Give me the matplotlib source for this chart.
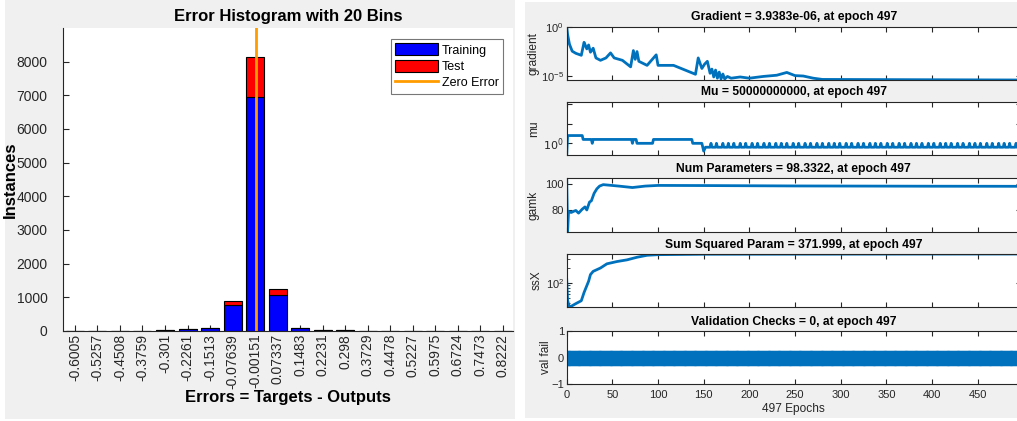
import numpy as np
import matplotlib
matplotlib.use('Agg')
import matplotlib.pyplot as plt
from matplotlib.patches import Rectangle, Patch
from matplotlib.lines import Line2D
from matplotlib import ticker

# ---------------- data ----------------
bin_labels = ['-0.6005', '-0.5257', '-0.4508', '-0.3759', '-0.301', '-0.2261',
              '-0.1513', '-0.07639', '-0.00151', '0.07337', '0.1483', '0.2231',
              '0.298', '0.3729', '0.4478', '0.5227', '0.5975', '0.6724',
              '0.7473', '0.8222']
training_counts = [0, 0, 0, 3, 22, 45, 80, 760, 6950, 1080, 80, 22, 18, 0, 0, 0, 0, 0, 0, 0]
test_counts = [0, 0, 0, 0, 4, 8, 12, 125, 1200, 170, 12, 5, 5, 0, 0, 0, 0, 0, 0, 0]
zero_error = 0.0

n_epochs = 497
epoch_ticks = [0, 50, 100, 150, 200, 250, 300, 350, 400, 450]

grad_epochs = [0, 1, 3, 6, 10, 16, 19, 20, 22, 24, 26, 29, 32, 37, 43, 48, 52, 61,
               70, 73, 75, 77, 79, 88, 98, 100, 117, 141, 144, 148, 151, 154, 157,
               159, 161, 163, 165, 167, 169, 171, 173, 176, 180, 190, 200, 215, 230,
               241, 250, 259, 270, 280, 497]
grad_values = [1.0, 0.16, 1.7e-2, 3.3e-3, 2.0e-3, 1.26e-3, 2.6e-2, 1.6e-2, 5.6e-3,
               1.4e-2, 2.6e-3, 6.6e-3, 6.8e-4, 3.9e-4, 6.8e-4, 2.2e-3, 6.8e-4, 3.9e-4,
               8.5e-5, 3.8e-3, 4.9e-4, 3.0e-3, 3.1e-4, 1.2e-4, 1.4e-3, 1.2e-4, 1.2e-4,
               1.5e-5, 6.8e-4, 5.8e-5, 1.6e-4, 3.1e-4, 1.9e-5, 5e-5, 8e-6, 4e-5, 6e-6,
               2.5e-5, 5e-6, 1.6e-5, 5e-6, 9e-6, 6e-6, 8e-6, 6e-6, 9e-6, 1.2e-5,
               2.3e-5, 1.1e-5, 1.0e-5, 6e-6, 4.5e-6, 3.9383e-06]

mu_epochs = [0, 1, 17, 18, 27, 28, 29, 71, 72, 73, 76, 77, 94, 95, 137, 138, 148, 150, 152]
mu_values = [1e-3, 100, 100, 10, 10, 1, 10, 10, 1, 10, 10, 1, 1, 10, 10, 1, 1, 0.01, 0.1]
mu_spike_epochs = [158, 164, 171, 177, 183, 190, 196, 203, 209, 216, 222, 229, 235, 241,
                   248, 254, 261, 267, 274, 280, 287, 293, 299, 306, 312, 319, 325, 332,
                   338, 344, 351, 357, 364, 370, 377, 383, 389, 396, 402, 409, 415, 421,
                   428, 434, 441, 447, 453, 460, 466, 473, 479, 485, 492]
mu_base = 0.1
mu_spike = 1.0
mu_final = 5e10

gamk_epochs = [0, 1, 2, 5, 8, 10, 13, 17, 20, 22, 25, 27, 30, 33, 36, 40, 57, 72, 86,
               100, 150, 250, 400, 497]
gamk_values = [104, 64, 79, 78.5, 79.5, 80, 78, 81, 82.7, 80.4, 86.4, 87.3, 93, 96.4,
               98.5, 99.6, 98.5, 97.4, 98.5, 99, 98.9, 98.6, 98.4, 98.3322]

ssx_epochs = [0, 1, 3, 10, 16, 19, 24, 26, 29, 37, 44, 55, 66, 77, 88, 100, 150, 497]
ssx_values = [117, 45, 33, 39, 44.5, 64.6, 108, 146, 169, 197, 238, 264, 285, 321,
              351, 361, 368, 371.999]

val_fail = [0] * (n_epochs + 1)

# ---------------- style ----------------
plt.rcParams['font.family'] = ['Liberation Sans', 'DejaVu Sans']
TXT = '#262626'
LINE = '#0072BD'
PANEL = '#F0F0F0'

W, H = 1017, 421
fig = plt.figure(figsize=(W / 100, H / 100), dpi=100)
fig.patch.set_facecolor('white')

def fx(px):
    return px / W

def fy(py):
    return 1 - py / H

# grey panels
fig.patches.append(Rectangle((fx(5), fy(419)), fx(510), (419 - 0) / H,
                             transform=fig.transFigure, facecolor=PANEL,
                             edgecolor='none', zorder=-10))
fig.patches.append(Rectangle((fx(525), fy(418)), fx(492), (418 - 2) / H,
                             transform=fig.transFigure, facecolor=PANEL,
                             edgecolor='none', zorder=-10))

# ---------------- histogram ----------------
centers = np.array([float(s) for s in bin_labels])
spacing = centers[1] - centers[0]
axh = fig.add_axes([fx(63), fy(331), fx(513 - 63), (331 - 28) / H])
axh.set_facecolor('white')
tr = np.array(training_counts)
te = np.array(test_counts)
axh.bar(centers, tr, width=0.8 * spacing, color='#0000FF', edgecolor='black',
        linewidth=0.8, zorder=2)
axh.bar(centers, te, bottom=tr, width=0.8 * spacing, color='#FF0000',
        edgecolor='black', linewidth=0.8, zorder=2)
axh.axvline(zero_error, color='#FF9C00', linewidth=2.0, zorder=3)
axh.set_xlim(-0.640, 0.856)
axh.set_ylim(0, 9000)
axh.set_xticks(centers)
axh.set_xticklabels(bin_labels, rotation=90, fontsize=10, color=TXT)
axh.set_yticks(range(0, 9000, 1000))
for lab in axh.get_yticklabels():
    lab.set_fontsize(10)
    lab.set_color(TXT)
    lab.set_family(['Liberation Sans Narrow', 'Liberation Sans'])
axh.tick_params(axis='x', direction='in', length=4, pad=2, colors=TXT)
axh.tick_params(axis='y', direction='in', length=4, pad=11, colors=TXT)
for s in ['top', 'right']:
    axh.spines[s].set_visible(False)
for s in ['left', 'bottom']:
    axh.spines[s].set_color(TXT)
    axh.spines[s].set_linewidth(0.8)
axh.set_title('Error Histogram with 20 Bins', fontsize=12, fontweight='bold', pad=5)
axh.set_xlabel('Errors = Targets - Outputs', fontsize=12, fontweight='bold')
axh.xaxis.set_label_coords(0.5, -0.195)
axh.set_ylabel('Instances', fontsize=12, fontweight='bold')
axh.yaxis.set_label_coords(-0.10, 0.5)
handles = [Patch(facecolor='#0000FF', edgecolor='black', linewidth=0.8),
           Patch(facecolor='#FF0000', edgecolor='black', linewidth=0.8),
           Line2D([], [], color='#FF9C00', linewidth=2.0)]
leg = axh.legend(handles, ['Training', 'Test', 'Zero Error'], loc='upper right',
                 bbox_to_anchor=(1 - 10 / 450, 1 - 11 / 303), fontsize=9,
                 frameon=True, fancybox=False, handlelength=3.4, handleheight=1.1,
                 handletextpad=0.3, borderpad=0.35, labelspacing=0.25,
                 borderaxespad=0)
leg.get_frame().set_edgecolor('#555555')
leg.get_frame().set_linewidth(0.8)

# ---------------- training state panels ----------------
left = fx(566.7)
width = fx(1020.6 - 566.7)
tops = [26.7, 101.7, 178.3, 254.0, 331.0]
ph = 53.3

def make_ax(i):
    ax = fig.add_axes([left, fy(tops[i] + ph), width, ph / H])
    ax.set_facecolor('white')
    ax.set_xlim(0, n_epochs)
    ax.set_xticks(epoch_ticks)
    ax.tick_params(axis='both', which='both', direction='in', top=True, right=True,
                   colors=TXT, labelsize=8)
    ax.tick_params(axis='both', which='major', length=3.5)
    ax.tick_params(axis='both', which='minor', length=2)
    ax.tick_params(axis='y', pad=2)
    for s in ax.spines.values():
        s.set_color(TXT)
        s.set_linewidth(0.8)
    if i < 4:
        ax.tick_params(axis='x', labelbottom=False)
    return ax

title_kw = dict(fontsize=8.7, fontweight='bold', pad=4.5)
label_kw = dict(fontsize=8.6, color=TXT)

# gradient
ax1 = make_ax(0)
ax1.semilogy(grad_epochs, grad_values, color=LINE, linewidth=2)
ax1.set_ylim(3.9383e-06, 1.0)
ax1.set_xlim(0, n_epochs)
ax1.yaxis.set_major_locator(ticker.FixedLocator([1e-5, 1e0]))
ax1.yaxis.set_minor_locator(ticker.NullLocator())
ax1.set_title('Gradient = 3.9383e-06, at epoch 497', **title_kw)
ax1.set_ylabel('gradient', **label_kw)
ax1.yaxis.set_label_coords(-0.059, 0.5)

# mu
mu_x = list(mu_epochs)
mu_y = list(mu_values)
for e in mu_spike_epochs:
    mu_x += [e - 1, e, e + 1]
    mu_y += [mu_base, mu_spike, mu_base]
mu_x += [n_epochs - 1, n_epochs]
mu_y += [mu_base, mu_final]
ax2 = make_ax(1)
ax2.semilogy(mu_x, mu_y, color=LINE, linewidth=2)
ax2.set_ylim(1e-3, 5e10)
ax2.set_xlim(0, n_epochs)
ax2.yaxis.set_major_locator(ticker.FixedLocator([1e0, 1e5, 1e10]))
ax2.yaxis.set_major_formatter(ticker.FixedFormatter([r'$10^{0}$', '', '']))
ax2.yaxis.set_minor_locator(ticker.NullLocator())
ax2.set_title('Mu = 50000000000, at epoch 497', **title_kw)
ax2.set_ylabel('mu', **label_kw)
ax2.yaxis.set_label_coords(-0.059, 0.5)

# gamk
ax3 = make_ax(2)
ax3.plot(gamk_epochs, gamk_values, color=LINE, linewidth=2)
ax3.set_ylim(64, 104.4)
ax3.set_yticks([80, 100])
ax3.set_title('Num Parameters = 98.3322, at epoch 497', **title_kw)
ax3.set_ylabel('gamk', **label_kw)
ax3.yaxis.set_label_coords(-0.059, 0.5)

# ssX
ax4 = make_ax(3)
ax4.semilogy(ssx_epochs, ssx_values, color=LINE, linewidth=2)
ax4.set_ylim(33, 372)
ax4.yaxis.set_major_locator(ticker.FixedLocator([1e2]))
ax4.yaxis.set_minor_locator(ticker.LogLocator(base=10, subs=np.arange(2, 10)))
ax4.yaxis.set_minor_formatter(ticker.NullFormatter())
ax4.set_title('Sum Squared Param = 371.999, at epoch 497', **title_kw)
ax4.set_ylabel('ssX', **label_kw)
ax4.yaxis.set_label_coords(-0.052, 0.5)

# val fail
ax5 = make_ax(4)
ax5.plot(range(n_epochs + 1), val_fail, color=LINE, linewidth=2, marker='o',
         markersize=10, markerfacecolor=LINE, markeredgecolor=LINE)
ax5.set_ylim(-1, 1)
ax5.set_xlim(0, n_epochs)
ax5.set_yticks([-1, 0, 1])
ax5.set_title('Validation Checks = 0, at epoch 497', **title_kw)
ax5.set_ylabel('val fail', **label_kw)
ax5.yaxis.set_label_coords(-0.032, 0.5)
ax5.set_xlabel('497 Epochs', labelpad=2, **label_kw)
ax5.tick_params(axis='x', pad=4)

fig.savefig('out.png', dpi=100, facecolor=fig.get_facecolor())
